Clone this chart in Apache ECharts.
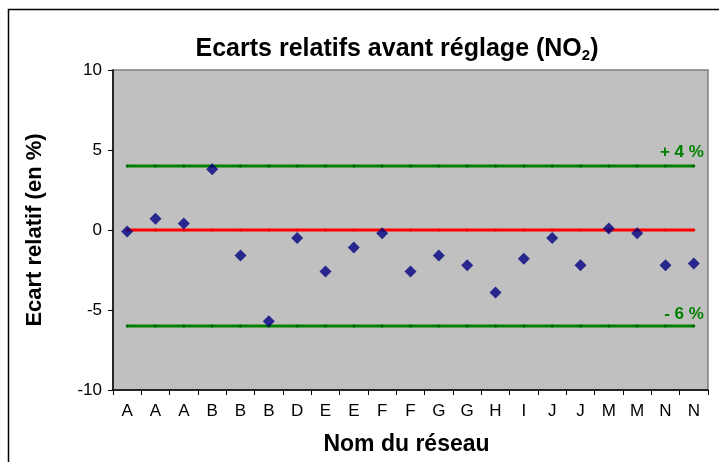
<!DOCTYPE html>
<html>
<head>
<meta charset="utf-8">
<script src="https://cdn.jsdelivr.net/npm/echarts@6/dist/echarts.min.js"></script>
<style>html,body{margin:0;padding:0;background:#fff;}#c{width:719px;height:462px;}</style>
</head>
<body>
<div id="c"></div>
<script>
var categories = ['A','A','A','B','B','B','D','E','E','F','F','G','G','H','I','J','J','M','M','N','N'];
var ecarts = [-0.1, 0.7, 0.4, 3.8, -1.6, -5.7, -0.5, -2.6, -1.1, -0.2, -2.6, -1.6, -2.2, -3.9, -1.8, -0.5, -2.2, 0.1, -0.2, -2.2, -2.1];
var limitHigh = 4;
var limitLow = -6;
var reference = 0;
var yTicks = [-10, -5, 0, 5, 10];

function constLine(v, label) {
  return categories.map(function (c, i) {
    if (label && i === categories.length - 1) {
      return { value: v, label: { show: true, formatter: label } };
    }
    return v;
  });
}

var chart = echarts.init(document.getElementById('c'), null, { renderer: 'canvas' });
var font = 'Arial, "Liberation Sans", sans-serif';
chart.setOption({
  animation: false,
  backgroundColor: '#ffffff',
  title: {
    text: '{a|Ecarts relatifs avant réglage (NO}{s|2}{a|)}',
    left: 392, top: 31, textAlign: 'center',
    textStyle: {
      rich: {
        a: { fontFamily: font, fontWeight: 'bold', fontSize: 25, color: '#000' },
        s: { fontFamily: font, fontWeight: 'bold', fontSize: 15, color: '#000', padding: [12, 0, 0, 0] }
      }
    }
  },
  graphic: [{
    type: 'rect', shape: { x: 8.5, y: 9.5, width: 730, height: 470 },
    style: { fill: 'none', stroke: '#000', lineWidth: 1.5 }, z: -1
  }],
  grid: {
    left: 113, right: 11, top: 70, bottom: 72,
    show: true, backgroundColor: '#c0c0c0', borderColor: '#808080', borderWidth: 1.5
  },
  xAxis: {
    type: 'category', data: categories, boundaryGap: true,
    name: 'Nom du réseau', nameLocation: 'middle', nameGap: 43,
    nameTextStyle: { fontFamily: font, fontWeight: 'bold', fontSize: 23, color: '#000', padding: [0, 8, 0, 0] },
    axisLine: { onZero: false, lineStyle: { color: '#000', width: 1.5 } },
    axisTick: { show: true, length: 5, lineStyle: { color: '#000' }, interval: 0 },
    axisLabel: { interval: 0, margin: 13, fontFamily: font, fontSize: 17, color: '#000' },
    splitLine: { show: false }
  },
  yAxis: {
    type: 'value', min: yTicks[0], max: yTicks[yTicks.length - 1], interval: 5,
    name: 'Ecart relatif (en %)', nameLocation: 'middle', nameGap: 67, nameRotate: 90,
    nameTextStyle: { fontFamily: font, fontWeight: 'bold', fontSize: 22, color: '#000' },
    axisLine: { show: true, onZero: false, lineStyle: { color: '#000', width: 1.5 } },
    axisTick: { show: true, length: 5, lineStyle: { color: '#000' } },
    axisLabel: { margin: 11, fontFamily: font, fontSize: 17, color: '#000' },
    splitLine: { show: false }
  },
  series: [
    {
      type: 'line', data: constLine(limitHigh, '+ 4 %'),
      symbol: 'circle', symbolSize: 3, showSymbol: true,
      itemStyle: { color: '#006400' },
      lineStyle: { color: '#008000', width: 3 },
      label: { show: false, position: 'top', align: 'right', offset: [10, 1],
        fontFamily: font, fontWeight: 'bold', fontSize: 17, color: '#008000' },
      z: 2
    },
    {
      type: 'line', data: constLine(limitLow, '- 6 %'),
      symbol: 'circle', symbolSize: 3, showSymbol: true,
      itemStyle: { color: '#006400' },
      lineStyle: { color: '#008000', width: 3 },
      label: { show: false, position: 'top', align: 'right', offset: [10, 3],
        fontFamily: font, fontWeight: 'bold', fontSize: 17, color: '#008000' },
      z: 2
    },
    {
      type: 'line', data: constLine(reference, null),
      symbol: 'circle', symbolSize: 3, showSymbol: true,
      itemStyle: { color: '#ee0000' },
      lineStyle: { color: '#ff0000', width: 3 },
      z: 2
    },
    {
      type: 'scatter', data: ecarts,
      symbol: 'diamond', symbolSize: 12,
      itemStyle: { color: '#000080' },
      z: 5
    }
  ]
});
</script>
</body>
</html>
